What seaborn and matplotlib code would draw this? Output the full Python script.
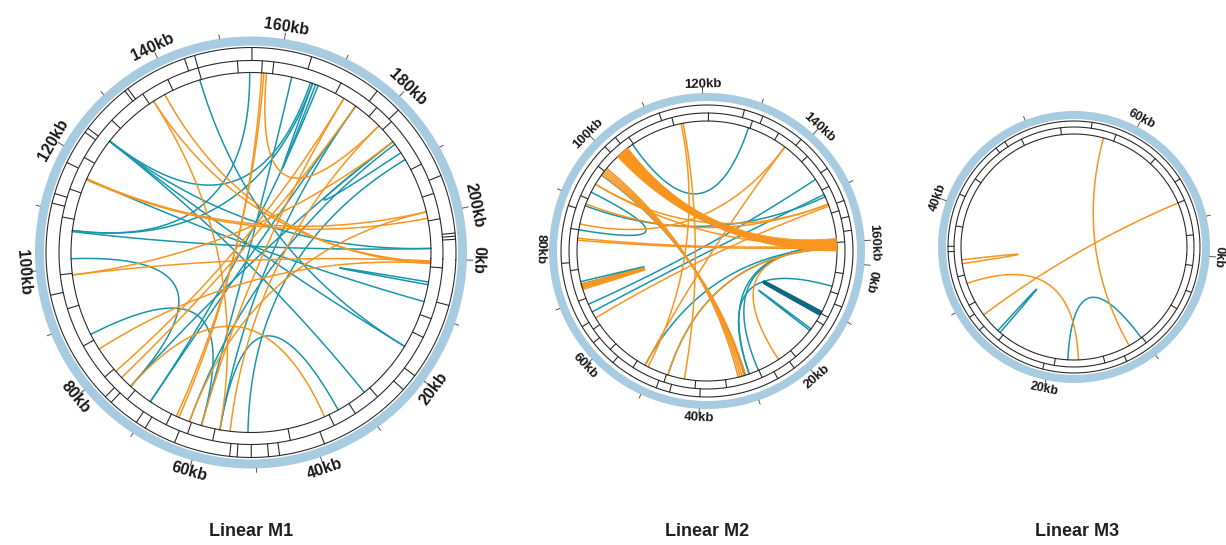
import numpy as np
import pandas as pd
import matplotlib.pyplot as plt
import seaborn as sns
from matplotlib.patches import Wedge, Polygon

# ---- data (positions in kb) ----
# Linear M1
m1_teal_start = [154.6, 145.3, 124.9, 124.9, 166.4, 166.0, 167.5, 162.4, 175.4, 184.9, 185.5, 188.9,
                 4.3, 8.0, 28.3, 34.1, 87.2, 106.7, 101.7, 70.5, 75.1, 166.4]
m1_teal_end = [106.9, 17.0, 17.0, 206.1, 106.9, 125.0, 70.5, 60.1, 56.6, 187.4, 62.4, 51.4,
               4.8, 116.8, 124.9, 56.6, 60.1, 206.1, 75.1, 175.4, 184.9, 167.0]
m1_orange_start = [156.8, 157.2, 157.7, 172.8, 175.4, 199.3, 200.5, 0.6, 0.9, 0.4, 0.8,
                   36.9, 54.7, 60.1, 62.4, 135.9, 98.7]
m1_orange_end = [64.5, 65.0, 181.0, 79.0, 77.4, 116.8, 116.6, 135.9, 138.3, 98.7, 84.1,
                 75.1, 181.0, 172.8, 199.3, 56.6, 184.9]
m1_genes_outer = [7.5, 20.2, 23.1, 38.7, 46.2, 48.0, 50.8, 53.1, 54.3, 63.5, 68.8, 70.5, 75.7, 77.0,
                  95.9, 110.9, 112.5, 117.9, 123.6, 124.4, 132.9, 133.5, 143.9, 145.6, 155.0, 164.8,
                  176.8, 181.4, 194.1, 203.7, 204.2, 204.7]
m1_genes_inner = [1.5, 10.5, 14.0, 27.0, 31.8, 36.0, 44.0, 57.5, 62.0, 66.0, 74.0, 79.5, 86.0, 93.0,
                  99.0, 109.0, 114.0, 120.0, 128.0, 135.0, 140.0, 145.6, 152.5, 156.8, 158.8, 171.0,
                  178.5, 182.0, 191.0, 196.5, 201.0]

# Linear M2
m2_teal_start = [104.8, 146.5, 161.0, 161.2, 160.5, 160.8, 96.0, 73.5, 14.5, 92.0, 67.0, 4.9, 150.5]
m2_teal_end = [129.2, 68.7, 51.7, 46.7, 30.1, 28.1, 31.0, 73.0, 14.9, 84.0, 150.0, 30.1, 89.0]
m2_dark_start = [10.6]
m2_dark_end = [11.0]
m2_orange_start = [96.9, 97.3, 96.5, 97.7, 96.1, 89.4, 81.9, 82.3, 72.2, 72.5, 71.9, 65.6,
                   115.9, 115.5, 137.5, 161.0, 161.3, 152.1, 85.2, 93.8]
m2_orange_end = [31.6, 32.0, 31.2, 32.4, 30.8, 152.1, 161.0, 160.6, 72.7, 73.0, 72.4, 152.5,
                 43.3, 51.0, 51.7, 23.5, 46.7, 93.8, 137.5, 160.2]
m2_ribbon_a = [100.9, 103.6]
m2_ribbon_b = [159.2, 161.7]
m2_genes_outer = [8.0, 22.0, 25.5, 40.0, 45.5, 48.0, 57.0, 62.0, 65.5, 77.5, 88.0, 100.5, 103.0,
                  112.0, 127.5, 131.0, 139.0, 146.0, 152.5, 155.5, 158.0]
m2_genes_inner = [2.0, 6.0, 10.8, 12.5, 20.5, 28.0, 35.0, 41.0, 47.0, 53.5, 59.0, 64.0, 70.0, 76.0,
                  84.0, 90.5, 97.0, 105.0, 114.0, 121.0, 129.5, 135.0, 142.0, 149.0, 154.0, 160.0]

# Linear M3
m3_teal_start = [18.2, 25.9]
m3_teal_end = [10.1, 26.2]
m3_orange_start = [57.4, 68.0, 34.2, 32.1]
m3_orange_end = [11.6, 28.4, 34.6, 17.1]
m3_genes_outer = [3.5, 12.5, 20.5, 27.5, 29.0, 35.5, 36.0, 41.0, 46.5, 47.5, 56.0, 66.0]
m3_genes_inner = [1.0, 5.5, 10.0, 14.5, 19.5, 25.5, 30.0, 33.0, 38.0, 43.0, 49.0, 53.0, 58.5,
                  63.0, 68.0, 71.5]

titles = ["Linear M1", "Linear M2", "Linear M3"]

# ---- layout of the three circles (pixels) ----
circles = [
    dict(cx=251, cy=252.5, length=208, t0=-2, r_blue=(207, 216), r_rings=(205, 192, 180), fs=11.5,
         lab_off=12, title_x=251, nudge={}),
    dict(cx=707, cy=251, length=164, t0=-5, r_blue=(150, 158), r_rings=(146, 138, 130), fs=9.5,
         lab_off=9, title_x=707, nudge={0: 2.6, 160: 0.4}),
    dict(cx=1074, cy=247, length=73.5, t0=-4, r_blue=(128, 136), r_rings=(126, 120, 113), fs=9,
         lab_off=9, title_x=1077, nudge={}),
]
links = [
    dict(teal=(m1_teal_start, m1_teal_end), orange=(m1_orange_start, m1_orange_end)),
    dict(teal=(m2_teal_start, m2_teal_end), orange=(m2_orange_start, m2_orange_end)),
    dict(teal=(m3_teal_start, m3_teal_end), orange=(m3_orange_start, m3_orange_end)),
]
genes = [(m1_genes_outer, m1_genes_inner), (m2_genes_outer, m2_genes_inner),
         (m3_genes_outer, m3_genes_inner)]

BLUE = "#a7cbe0"
TEAL = "#1896ab"
ORANGE = "#f8951f"
DARK = "#0b6880"
LINE = "#2b2b2b"


def ang(kb, c):
    return np.deg2rad(c["t0"] - 360.0 * np.asarray(kb, dtype=float) / c["length"])


def xy(kb, r, c):
    a = ang(kb, c)
    return c["cx"] + r * np.cos(a), c["cy"] - r * np.sin(a)


def bezier(k1, k2, c, n=90):
    t = np.linspace(0, 1, n)
    r = c["r_rings"][2]
    x1, y1 = xy(k1, r, c)
    x2, y2 = xy(k2, r, c)
    x = (1 - t) ** 2 * x1 + 2 * t * (1 - t) * c["cx"] + t ** 2 * x2
    y = (1 - t) ** 2 * y1 + 2 * t * (1 - t) * c["cy"] + t ** 2 * y2
    return x, y


sns.set_theme(style="white")
plt.rcParams['font.family'] = ['Liberation Sans', 'DejaVu Sans']

fig = plt.figure(figsize=(12.26, 5.45), dpi=100)
ax = fig.add_axes([0, 0, 1, 1])

# build all chords into one table and draw them with seaborn
rows = []
lid = 0
for i, c in enumerate(circles):
    for kind in ["teal", "orange"]:
        s, e = links[i][kind]
        for k1, k2 in zip(s, e):
            x, y = bezier(k1, k2, c)
            rows.append(pd.DataFrame({"x": x, "y": y, "link": lid, "kind": kind}))
            lid += 1
df = pd.concat(rows, ignore_index=True)
sns.lineplot(data=df, x="x", y="y", units="link", estimator=None, sort=False, hue="kind",
             palette={"teal": TEAL, "orange": ORANGE}, linewidth=1.1, legend=False, ax=ax)

# dark teal link in M2
for k1, k2 in zip(m2_dark_start, m2_dark_end):
    x, y = bezier(k1, k2, circles[1])
    ax.plot(x, y, color=DARK, lw=2.6, solid_capstyle="butt")

# orange ribbon in M2
c2 = circles[1]
r2 = c2["r_rings"][2]
bx1, by1 = bezier(m2_ribbon_a[0], m2_ribbon_b[1], c2)
bx2, by2 = bezier(m2_ribbon_b[0], m2_ribbon_a[1], c2)
arc_b = xy(np.linspace(m2_ribbon_b[1], m2_ribbon_b[0], 10), r2, c2)
arc_a = xy(np.linspace(m2_ribbon_a[1], m2_ribbon_a[0], 10), r2, c2)
px = np.concatenate([bx1, arc_b[0], bx2, arc_a[0]])
py = np.concatenate([by1, arc_b[1], by2, arc_a[1]])
ax.add_patch(Polygon(np.column_stack([px, py]), closed=True, facecolor=ORANGE, edgecolor=ORANGE,
                     lw=0.6, zorder=3))

full = np.linspace(0, 1, 400)
for i, c in enumerate(circles):
    # blue ideogram ring
    ax.add_patch(Wedge((c["cx"], c["cy"]), c["r_blue"][1], 0, 360,
                       width=c["r_blue"][1] - c["r_blue"][0], facecolor=BLUE, edgecolor="none"))
    # black track circles
    for r in c["r_rings"]:
        x, y = xy(full * c["length"], r, c)
        ax.plot(x, y, color=LINE, lw=0.8)
    # gene boundaries
    r_o, r_m, r_i = c["r_rings"]
    for kb in genes[i][0]:
        x, y = xy([kb, kb], [r_m, r_o], c)
        ax.plot(x, y, color=LINE, lw=0.8)
    for kb in genes[i][1]:
        x, y = xy([kb, kb], [r_i, r_m], c)
        ax.plot(x, y, color=LINE, lw=0.8)
    # ticks + labels
    r_out = c["r_blue"][1]
    for kb in np.arange(0, c["length"], 10):
        major = kb % 20 == 0
        x, y = xy([kb, kb], [r_out, r_out + (6 if major else 4)], c)
        ax.plot(x, y, color="#555555", lw=0.7)
        if major:
            pos = kb + c["nudge"].get(int(kb), 0)
            th = np.rad2deg(ang(pos, c))
            th = (th + 190) % 360 - 190
            rot = th + 90 if th < -20 else th - 90
            lx, ly = xy(pos, r_out + c["lab_off"], c)
            ax.text(lx, ly, f"{int(kb)}kb", rotation=rot, rotation_mode="anchor",
                    ha="center", va="center", fontsize=c["fs"], fontweight="bold", color="#1a1a1a")
    ax.text(c["title_x"], 531, titles[i], ha="center", va="center", fontsize=13,
            fontweight="bold", color="#231f20")

ax.set_xlim(0, 1226)
ax.set_ylim(545, 0)
ax.set_aspect("equal")
ax.axis("off")
fig.savefig("out.png", dpi=100)
